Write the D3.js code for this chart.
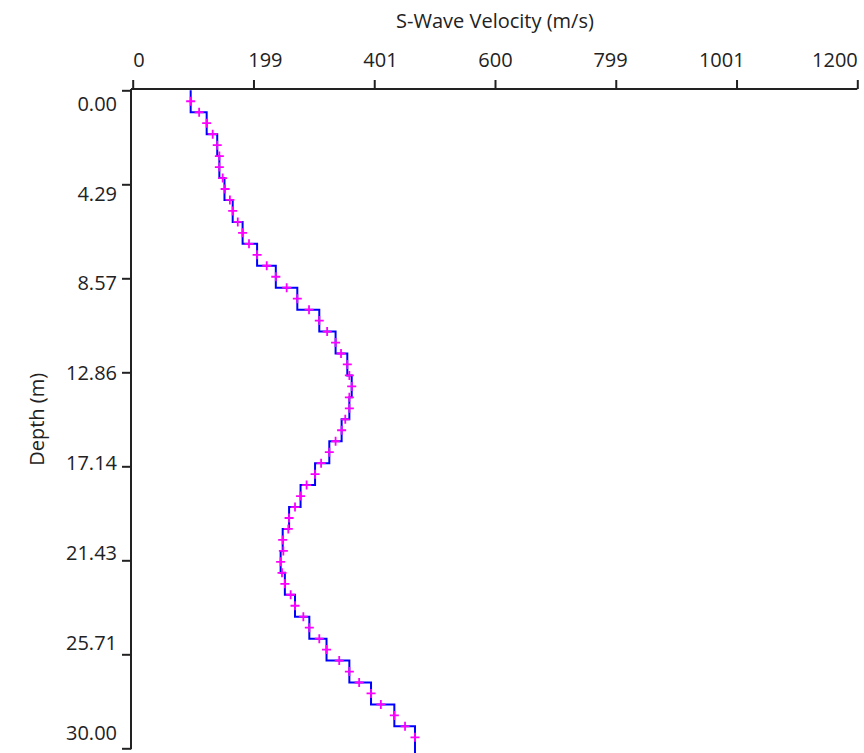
<!DOCTYPE html>
<html>
<head>
<meta charset="utf-8">
<script src="https://cdn.jsdelivr.net/npm/d3@7"></script>
<style>
  html, body { margin: 0; padding: 0; background: #fff; }
  svg { display: block; }
  text { font-family: "Open Sans", "Noto Sans", sans-serif; fill: #222; }
</style>
</head>
<body>
<svg id="chart" width="864" height="753"></svg>
<script>
// ---------------- data ----------------
const layerTops = [0,1,2,3,4,5,6,7,8,9,10,11,12,13,14,15,16,17,18,19,20,21,22,23,24,25,26,27,28,29];
const layerBottoms = [1,2,3,4,5,6,7,8,9,10,11,12,13,14,15,16,17,18,19,20,21,22,23,24,25,26,27,28,29,30.3];
const layerVelocity = [96,122.5,140,143.5,152,165.6,182,206,237,272.6,309,336,355.4,362.7,358.8,346,325.6,302,278,259,248.4,245,252,268.8,292.5,321,358.8,394.7,433.3,467.5];

const sampleDepth = [0.5,1,1.5,2,2.5,3,3.5,4,4.5,5,5.5,6,6.5,7,7.5,8,8.5,9,9.5,10,10.5,11,11.5,12,12.5,13,13.5,14,14.5,15,15.5,16,16.5,17,17.5,18,18.5,19,19.5,20,20.5,21,21.5,22,22.5,23,23.5,24,24.5,25,25.5,26,26.5,27,27.5,28,28.5,29,29.5];
const sampleVelocity = [96,110,122.5,132.5,140,143.5,143.5,149,153,161,165.6,174,182,192.6,206,222,237,255,272.6,292,309,322,336,345,355.4,358.8,362.7,358.8,358.8,352,346,336,325.6,312,302,288,278,268.8,259,257.7,248.4,249.5,245,247.3,252,261.6,268.8,282.6,292.5,309,321,342,358.8,375,394.7,411,433.3,451,467.5];

const xTickValues = [0,200,400,600,800,1000,1200];
const xTickLabels = ["0","199","401","600","799","1001","1200"];
const yTickValues = [0,4.2857,8.5714,12.8571,17.1429,21.4286,25.7143,30];
const yTickLabels = ["0.00","4.29","8.57","12.86","17.14","21.43","25.71","30.00"];

const xTitle = "S-Wave Velocity (m/s)";
const yTitle = "Depth (m)";

// ---------------- layout ----------------
const svg = d3.select("#chart");
const axisColor = "#222";
const x = d3.scaleLinear().domain([0,1200]).range([132.7,857.3]);
const y = d3.scaleLinear().domain([0,30]).range([90.3,748.3]);
const axisX = 131, axisY = 89;

// step line
const stepPts = [];
layerVelocity.forEach((v,i) => { stepPts.push([v, layerTops[i]]); stepPts.push([v, layerBottoms[i]]); });
const line = d3.line().x(d => x(d[0])).y(d => y(d[1]));
svg.append("path").datum(stepPts)
  .attr("d", line).attr("fill","none").attr("stroke","#0000ff").attr("stroke-width",2);

// crosses
const cs = 4.5;
svg.append("g").selectAll("path").data(sampleDepth).join("path")
  .attr("d", (d,i) => { const cx = x(sampleVelocity[i]), cy = y(d);
     return `M${cx-cs},${cy}H${cx+cs}M${cx},${cy-cs}V${cy+cs}`; })
  .attr("stroke","#ff00ff").attr("stroke-width",1.8).attr("fill","none");

// x axis (top)
const gx = svg.append("g").attr("transform",`translate(0,${axisY})`)
  .call(d3.axisTop(x).tickValues(xTickValues).tickFormat((d,i)=>xTickLabels[i]).tickSize(9).tickSizeOuter(0));
gx.select(".domain").attr("d", `M${axisX},0H${x.range()[1]}`).attr("stroke",axisColor).attr("stroke-width",2);
gx.selectAll(".tick line").attr("stroke",axisColor).attr("stroke-width",2);
gx.selectAll(".tick text").attr("font-size",20).attr("fill","#222").attr("font-family",null)
  .attr("text-anchor","start").attr("dy",null).attr("y",-22)
  .each(function(d,i){ const t = i/(xTickValues.length-1); const w = this.getComputedTextLength();
     d3.select(this).attr("x", -t*w); });

// y axis (left)
const gy = svg.append("g").attr("transform",`translate(${axisX},0)`)
  .call(d3.axisLeft(y).tickValues(yTickValues).tickFormat((d,i)=>yTickLabels[i]).tickSize(9).tickSizeOuter(0));
gy.select(".domain").attr("d", `M0,${axisY}V${y.range()[1]+1}`).attr("stroke",axisColor).attr("stroke-width",2);
gy.selectAll(".tick line").attr("stroke",axisColor).attr("stroke-width",2);
gy.selectAll(".tick text").attr("font-size",20).attr("fill","#222").attr("font-family",null)
  .attr("x",-14).attr("dy",null)
  .each(function(d,i){ const t = i/(yTickValues.length-1);
     d3.select(this).attr("y", 12.7 - t*29.3 + 7.3); });

// titles
svg.append("text").attr("x",(x.range()[0]+x.range()[1])/2).attr("y",28)
  .attr("text-anchor","middle").attr("font-size",20).text(xTitle);
svg.append("text").attr("transform",`translate(44,${(y.range()[0]+y.range()[1])/2}) rotate(-90)`)
  .attr("text-anchor","middle").attr("font-size",20).text(yTitle);
</script>
</body>
</html>
